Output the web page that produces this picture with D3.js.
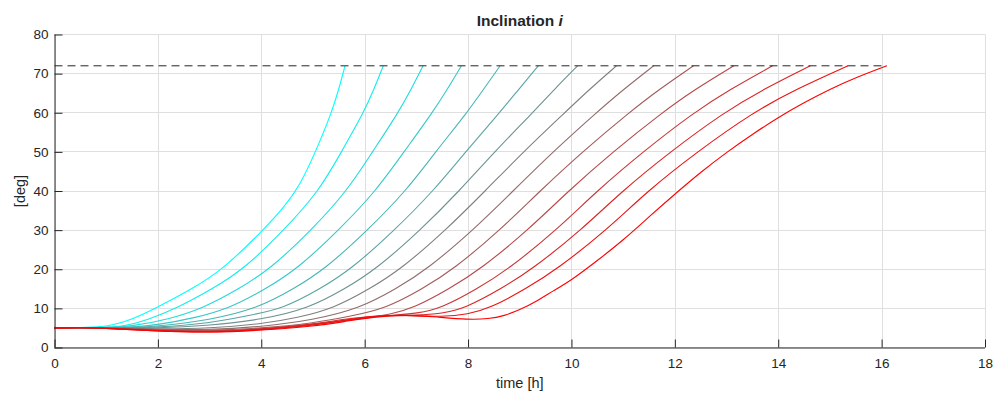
<!DOCTYPE html>
<html>
<head>
<meta charset="utf-8">
<script src="https://cdnjs.cloudflare.com/ajax/libs/d3/7.8.5/d3.min.js"></script>
<style>
  body { margin: 0; background: #fff; }
  text { font-family: "Liberation Sans", Arial, sans-serif; fill: #262626; }
</style>
</head>
<body>
<div id="chart"></div>
<script>

// axis ticks
var xTicks = [0, 2, 4, 6, 8, 10, 12, 14, 16, 18];
var yTicks = [0, 10, 20, 30, 40, 50, 60, 70, 80];

// target inclination (dashed line) and its time span
var targetIncl = 72;
var targetSpan = [0, 16.1];

// time [h] of each trajectory
var timeH = [
    [0, 0.5, 1.0, 1.5, 1.95, 2.67, 3.26, 4.0, 4.45, 4.75, 5.05, 5.36, 5.50, 5.62],
    [0, 0.5, 1.0, 1.3, 1.8, 2.36, 3.06, 3.66, 4.44, 5.12, 5.55, 5.98, 6.18, 6.36],
    [0, 0.5, 1.0, 1.5, 2.2, 2.87, 3.57, 4.17, 4.97, 5.66, 6.15, 6.65, 6.90, 7.13],
    [0, 0.5, 1.0, 1.5, 2.0, 2.7, 3.39, 4.09, 4.69, 5.50, 6.22, 6.76, 7.31, 7.60, 7.87],
    [0, 0.5, 1.0, 1.5, 2.0, 3.0, 3.93, 4.63, 5.23, 6.06, 6.80, 7.37, 7.98, 8.30, 8.62],
    [0, 0.5, 1.0, 2.0, 3.0, 3.7, 4.44, 5.14, 5.74, 6.58, 7.33, 7.95, 8.61, 8.98, 9.36],
    [0, 0.5, 1.0, 2.0, 3.0, 4.0, 4.92, 5.62, 6.22, 7.08, 7.83, 8.51, 9.25, 9.67, 10.12],
    [0, 0.5, 1.0, 2.0, 3.0, 4.0, 4.7, 5.40, 6.10, 6.70, 7.57, 8.33, 9.07, 9.87, 10.35, 10.87],
    [0, 0.5, 1.0, 2.0, 3.0, 4.0, 5.0, 5.91, 6.61, 7.21, 8.10, 8.87, 9.64, 10.48, 11.01, 11.59],
    [0, 0.5, 1.0, 2.0, 3.0, 4.0, 5.0, 5.7, 6.42, 7.12, 7.72, 8.62, 9.39, 10.21, 11.11, 11.70, 12.36],
    [0, 0.5, 1.0, 2.0, 3.0, 4.0, 5.0, 6.0, 6.5, 6.94, 7.64, 8.24, 9.16, 9.94, 10.80, 11.75, 12.39, 13.14],
    [0, 0.5, 1.0, 2.0, 3.0, 4.0, 5.0, 6.0, 6.6, 7.0, 7.48, 8.18, 8.78, 9.71, 10.49, 11.38, 12.36, 13.07, 13.89],
    [0, 0.5, 1.0, 2.0, 3.0, 4.0, 5.0, 5.8, 6.4, 7.0, 7.5, 7.94, 8.64, 9.24, 10.19, 10.98, 11.91, 12.94, 13.71, 14.62],
    [0, 0.5, 1.0, 2.0, 3.0, 4.0, 5.0, 5.7, 6.3, 6.9, 7.5, 8.0, 8.42, 9.12, 9.72, 10.68, 11.47, 12.43, 13.50, 14.34, 15.35],
    [0, 0.5, 1.0, 2.0, 3.0, 4.0, 5.0, 5.6, 6.2, 6.8, 7.4, 8.0, 8.4, 8.7, 9.0, 9.3, 9.65, 10.0, 10.5, 11.0, 11.5, 12.0, 12.5, 13.0, 13.5, 14.0, 14.5, 15.0, 15.5, 16.1]
];

// inclination [deg] of each trajectory
var inclDeg = [
    [5.0, 5.1, 5.2, 7.1, 10, 15, 20, 29.5, 36, 41.5, 50, 60, 66, 72],
    [5.0, 5.1, 5.15, 5.3, 7.0, 10, 15, 20, 30, 40, 50, 60, 66, 72],
    [5.0, 5.1, 5.1, 5.4, 7.2, 10, 15, 20, 30, 40, 50, 60, 66, 72],
    [5.0, 5.1, 5.1, 5.2, 5.8, 7.5, 10, 15, 20, 30, 40, 50, 60, 66, 72],
    [5.0, 5.1, 5.05, 5.1, 5.4, 7.0, 10, 15, 20, 30, 40, 50, 60, 66, 72],
    [5.0, 5.1, 5.0, 5.1, 6.2, 8.0, 10, 15, 20, 30, 40, 50, 60, 66, 72],
    [5.0, 5.1, 5.0, 4.9, 5.6, 7.1, 10, 15, 20, 30, 40, 50, 60, 66, 72],
    [5.0, 5.1, 5.0, 4.7, 4.9, 6.0, 7.6, 10, 15, 20, 30, 40, 50, 60, 66, 72],
    [5.0, 5.1, 5.0, 4.6, 4.5, 5.3, 7.0, 10, 15, 20, 30, 40, 50, 60, 66, 72],
    [5.0, 5.1, 5.0, 4.5, 4.3, 4.9, 6.2, 7.9, 10, 15, 20, 30, 40, 50, 60, 66, 72],
    [5.0, 5.1, 5.0, 4.4, 4.1, 4.7, 5.8, 7.5, 8.5, 10, 15, 20, 30, 40, 50, 60, 66, 72],
    [5.0, 5.1, 4.95, 4.3, 4.0, 4.6, 5.8, 7.6, 8.3, 8.7, 10, 15, 20, 30, 40, 50, 60, 66, 72],
    [5.0, 5.1, 4.95, 4.3, 3.9, 4.6, 5.9, 7.7, 8.2, 8.2, 8.7, 10, 15, 20, 30, 40, 50, 60, 66, 72],
    [5.0, 5.1, 4.9, 4.2, 3.8, 4.5, 5.6, 7.2, 8.3, 8.2, 7.8, 8.5, 10, 15, 20, 30, 40, 50, 60, 66, 72],
    [5.0, 5.1, 4.9, 4.2, 3.8, 4.4, 5.4, 6.6, 7.9, 8.4, 7.8, 7.1, 7.3, 8.1, 9.6, 11.6, 14.5, 17.2, 22.2, 27.4, 33.4, 39.2, 44.8, 49.9, 54.5, 58.8, 62.6, 66.0, 69.0, 72]
];

// svg size and plot box (MATLAB style axes)
var svgWidth = 994;
var svgHeight = 396;
var plot = { left: 54.5, right: 985, top: 34.5, bottom: 347.5 };
var tickLen = 8;
var axisColor = "#262626";
var gridColor = "#dfdfdf";

var svg = d3.select("#chart").append("svg")
    .attr("width", svgWidth)
    .attr("height", svgHeight);

var xScale = d3.scaleLinear().domain([0, 18]).range([plot.left, plot.right]);
var yScale = d3.scaleLinear().domain([0, 80]).range([plot.bottom, plot.top]);

// grid lines
svg.append("g").selectAll("line").data(xTicks).enter().append("line")
    .attr("x1", d => Math.round(xScale(d)) + 0.5).attr("x2", d => Math.round(xScale(d)) + 0.5)
    .attr("y1", plot.top).attr("y2", plot.bottom)
    .attr("stroke", gridColor);

svg.append("g").selectAll("line").data(yTicks).enter().append("line")
    .attr("y1", d => Math.round(yScale(d) - 0.5) + 0.5).attr("y2", d => Math.round(yScale(d) - 0.5) + 0.5)
    .attr("x1", plot.left).attr("x2", plot.right)
    .attr("stroke", gridColor);

// trajectories, cyan -> red
var colorOf = d3.interpolateRgb("#00ffff", "#ff0000");
var line = d3.line()
    .x(d => xScale(d[0]))
    .y(d => yScale(d[1]))
    .curve(d3.curveBasis);

var series = timeH.map((ts, i) => ts.map((t, j) => [t, inclDeg[i][j]]));

svg.append("g").selectAll("path").data(series).enter().append("path")
    .attr("d", line)
    .attr("fill", "none")
    .attr("stroke", (d, i) => colorOf(i / (series.length - 1)))
    .attr("stroke-width", 1.1);

// target inclination
svg.append("line")
    .attr("x1", xScale(targetSpan[0])).attr("x2", xScale(targetSpan[1]))
    .attr("y1", yScale(targetIncl)).attr("y2", yScale(targetIncl))
    .attr("stroke", axisColor)
    .attr("stroke-width", 1)
    .attr("stroke-dasharray", "8,5");

// axes: left and bottom only, ticks pointing inward
var xAxis = d3.axisBottom(xScale).tickValues(xTicks).tickSize(-tickLen).tickPadding(11);
var yAxis = d3.axisLeft(yScale).tickValues(yTicks).tickSize(-tickLen).tickPadding(6);

var gx = svg.append("g")
    .attr("transform", `translate(0, ${plot.bottom})`)
    .call(xAxis);
var gy = svg.append("g")
    .attr("transform", `translate(${plot.left}, 0)`)
    .call(yAxis);

[gx, gy].forEach(function (g) {
    g.select(".domain").attr("stroke", axisColor);
    g.selectAll(".tick line").attr("stroke", axisColor);
    g.selectAll(".tick text")
        .attr("fill", axisColor)
        .style("font-size", "13.5px")
        .style("font-family", "'Liberation Sans', Arial, sans-serif");
});
gx.select(".domain").attr("d", `M${plot.left},0.5H${plot.right}`);
gy.select(".domain").attr("d", `M0.5,${plot.bottom}V${plot.top}`);

// title
var title = svg.append("text")
    .attr("x", (plot.left + plot.right) / 2)
    .attr("y", 26)
    .attr("text-anchor", "middle")
    .style("font-size", "15.5px")
    .style("font-weight", "bold");
title.append("tspan").text("Inclination ");
title.append("tspan").style("font-style", "italic").text("i");

// axis labels
svg.append("text")
    .attr("x", (plot.left + plot.right) / 2)
    .attr("y", 388)
    .attr("text-anchor", "middle")
    .style("font-size", "14.5px")
    .text("time [h]");

svg.append("text")
    .attr("transform", `translate(25, ${(plot.top + plot.bottom) / 2}) rotate(-90)`)
    .attr("text-anchor", "middle")
    .style("font-size", "14.5px")
    .text("[deg]");

</script>
</body>
</html>
